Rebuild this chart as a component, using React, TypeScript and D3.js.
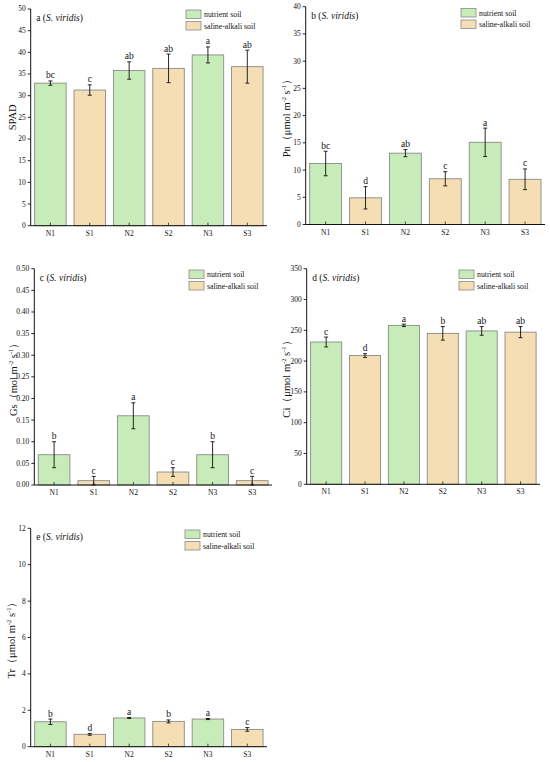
import React from 'react';
import * as d3 from 'd3';

const categories = ['N1', 'S1', 'N2', 'S2', 'N3', 'S3'];
const soilType = ['nutrient', 'saline', 'nutrient', 'saline', 'nutrient', 'saline'];
const legendLabels = ['nutrient soil', 'saline-alkali soil'];

const spadMean = [32.9, 31.3, 35.8, 36.3, 39.4, 36.7];
const spadErr = [0.5, 1.2, 2.0, 3.3, 1.85, 3.8];
const spadLetters = ['bc', 'c', 'ab', 'ab', 'a', 'ab'];

const pnMean = [11.2, 4.9, 13.1, 8.4, 15.1, 8.3];
const pnErr = [2.25, 2.05, 0.65, 1.3, 2.6, 1.9];
const pnLetters = ['bc', 'd', 'ab', 'c', 'a', 'c'];

const gsMean = [0.07, 0.01, 0.16, 0.03, 0.07, 0.01];
const gsErr = [0.03, 0.01, 0.03, 0.01, 0.03, 0.01];
const gsLetters = ['b', 'c', 'a', 'c', 'b', 'c'];

const ciMean = [231, 209, 258, 245, 249, 247];
const ciErr = [8, 3, 2, 11, 7, 9];
const ciLetters = ['c', 'd', 'a', 'b', 'ab', 'ab'];

const trMean = [1.37, 0.68, 1.58, 1.39, 1.52, 0.95];
const trErr = [0.15, 0.05, 0.03, 0.08, 0.03, 0.1];
const trLetters = ['b', 'd', 'a', 'b', 'a', 'c'];

const FILL = { nutrient: '#c8ecb9', saline: '#f5deb3' };
const STROKE = '#8a8a8a';
const FONT = '"Liberation Serif", "Times New Roman", "DejaVu Serif", serif';

type Part = { t: string; sup?: boolean };

interface PanelProps {
  tag: string;
  mean: number[];
  err: number[];
  letters: string[];
  max: number;
  step: number;
  fmt: string;
  label: Part[];
  ax0: number;
  ax1: number;
  yTop: number;
  yBot: number;
  labelX: number;
  legX: number;
  legY: number;
}

const unit = (name: string, mol = 'μmol'): Part[] => [
  { t: `${name}（${mol} m` },
  { t: '-2', sup: true },
  { t: ' s' },
  { t: '-1', sup: true },
  { t: '）' }
];

function Panel(p: PanelProps) {
  const x = d3.scaleBand<string>().domain(categories).range([p.ax0, p.ax1]).paddingInner(0.2).paddingOuter(0.1);
  const y = d3.scaleLinear().domain([0, p.max]).range([p.yBot, p.yTop]);
  const ticks = d3.range(0, p.max + p.step / 2, p.step);
  const f = d3.format(p.fmt);
  const bw = x.bandwidth();

  return (
    <g fontFamily={FONT}>
      {categories.map((c, i) => {
        const cx = x(c)! + bw / 2;
        const hi = y(p.mean[i] + p.err[i]);
        const lo = y(Math.max(0, p.mean[i] - p.err[i]));
        return (
          <g key={c}>
            <rect
              x={x(c)}
              y={y(p.mean[i])}
              width={bw}
              height={p.yBot - y(p.mean[i])}
              fill={FILL[soilType[i]]}
              stroke={STROKE}
              strokeWidth={0.9}
            />
            <line x1={cx} x2={cx} y1={p.yBot} y2={p.yBot - 3} stroke="#222" strokeWidth={0.8} />
            <line x1={cx} x2={cx} y1={hi} y2={lo} stroke="#111" strokeWidth={0.9} />
            <line x1={cx - 2} x2={cx + 2} y1={hi} y2={hi} stroke="#111" strokeWidth={0.9} />
            <line x1={cx - 2} x2={cx + 2} y1={lo} y2={lo} stroke="#111" strokeWidth={0.9} />
            <text x={cx} y={hi - 2.5} textAnchor="middle" fontSize={9.5} fill="#111">
              {p.letters[i]}
            </text>
            <text x={cx} y={p.yBot + 10} textAnchor="middle" fontSize={7.5} fill="#111">
              {c}
            </text>
          </g>
        );
      })}
      <line x1={p.ax0} x2={p.ax1} y1={p.yBot} y2={p.yBot} stroke="#111" strokeWidth={1} />
      <line x1={p.ax0} x2={p.ax0} y1={p.yBot} y2={p.yTop} stroke="#111" strokeWidth={1} />
      {ticks.map((t) => (
        <g key={t}>
          <line x1={p.ax0 - 3} x2={p.ax0} y1={y(t)} y2={y(t)} stroke="#111" strokeWidth={0.9} />
          <text x={p.ax0 - 5} y={y(t)} dy="0.33em" textAnchor="end" fontSize={7.5} fill="#111">
            {f(t)}
          </text>
        </g>
      ))}
      <text
        transform={`translate(${p.labelX},${(p.yTop + p.yBot) / 2}) rotate(-90)`}
        textAnchor="middle"
        fontSize={10.5}
        fill="#111"
      >
        {p.label.map((s, i) => (
          <tspan key={i} fontSize={s.sup ? 6.5 : undefined} dy={s.sup ? -4 : i > 0 && p.label[i - 1].sup ? 4 : 0}>
            {s.t}
          </tspan>
        ))}
      </text>
      <text x={p.ax0 + 5.5} y={p.yTop + 12} fontSize={9.5} fill="#111">
        {p.tag} (<tspan fontStyle="italic">S. viridis</tspan>)
      </text>
      {legendLabels.map((l, i) => (
        <g key={l}>
          <rect
            x={p.legX}
            y={p.legY + i * 11.5}
            width={15}
            height={8.5}
            fill={i === 0 ? FILL.nutrient : FILL.saline}
            stroke={STROKE}
            strokeWidth={0.8}
          />
          <text x={p.legX + 18} y={p.legY + i * 11.5 + 7} fontSize={7.8} fill="#111">
            {l}
          </text>
        </g>
      ))}
    </g>
  );
}

export default function App() {
  return (
    <svg
      width={550}
      height={762}
      viewBox="0 0 550 762"
      style={{ position: 'absolute', left: 0, top: 0, background: '#fff' }}
    >
      <rect width={550} height={762} fill="#fff" />
      <Panel
        tag="a" mean={spadMean} err={spadErr} letters={spadLetters}
        max={50} step={5} fmt="d" label={[{ t: 'SPAD' }]}
        ax0={30.7} ax1={267} yTop={9} yBot={225.7} labelX={15.5} legX={186} legY={10}
      />
      <Panel
        tag="b" mean={pnMean} err={pnErr} letters={pnLetters}
        max={40} step={5} fmt="d" label={unit('Pn')}
        ax0={305.7} ax1={545} yTop={6.7} yBot={224.5} labelX={290} legX={461} legY={8.5}
      />
      <Panel
        tag="c" mean={gsMean} err={gsErr} letters={gsLetters}
        max={0.5} step={0.05} fmt=".2f" label={unit('Gs', 'mol')}
        ax0={34.3} ax1={272} yTop={268.7} yBot={485} labelX={16.5} legX={189} legY={270}
      />
      <Panel
        tag="d" mean={ciMean} err={ciErr} letters={ciLetters}
        max={350} step={50} fmt="d" label={unit('Ci')}
        ax0={306.7} ax1={540} yTop={268.7} yBot={484.3} labelX={290} legX={459} legY={270}
      />
      <Panel
        tag="e" mean={trMean} err={trErr} letters={trLetters}
        max={12} step={2} fmt="d" label={unit('Tr')}
        ax0={30.7} ax1={267} yTop={528.3} yBot={746.7} labelX={15} legX={185} legY={530}
      />
    </svg>
  );
}
